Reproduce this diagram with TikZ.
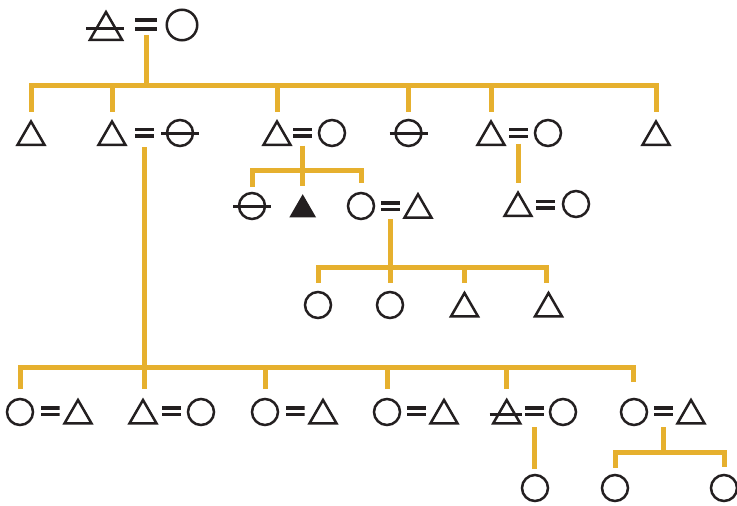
\documentclass[tikz,border=0pt]{standalone}
\usetikzlibrary{shapes.geometric,calc}
\definecolor{kinyellow}{RGB}{230,176,46}
\definecolor{ink}{RGB}{35,31,32}
\tikzset{
  sym/.style={draw=ink, line width=2.5pt, inner sep=0pt, outer sep=0pt},
  tri/.style={sym, regular polygon, regular polygon sides=3, minimum size=31pt},
  bigtri/.style={tri, minimum size=37pt},
  ftri/.style={regular polygon, regular polygon sides=3, minimum size=30.8pt, fill=ink, inner sep=0pt, outer sep=0pt},
  circ/.style={sym, circle, minimum size=26pt},
  bigcirc/.style={circ, minimum size=30.5pt},
  eqsign/.style n args={3}{minimum width=#1, minimum height=#2, inner sep=0pt, outer sep=0pt,
    path picture={
      \fill[ink] (path picture bounding box.north west) rectangle ([yshift=-#3]path picture bounding box.north east);
      \fill[ink] (path picture bounding box.south west) rectangle ([yshift=#3]path picture bounding box.south east);}},
  eq/.style={eqsign={19pt}{10pt}{3.4pt}},
  bigeq/.style={eqsign={22pt}{12.5pt}{3.9pt}},
  kin/.style={draw=kinyellow, line width=5pt},
  strike/.style={draw=ink, line width=3pt},
}
\begin{document}
\begin{tikzpicture}[x=1pt,y=-1pt]
\useasboundingbox (0,0) rectangle (737,506);

% generation 1
\node[bigtri]  (T0) at (106,30.5) {};
\node[bigeq]   (E0) at (146,24.5) {};
\node[bigcirc] (C0) at (182,25) {};
\draw[strike] ([xshift=-20pt,yshift=2.5pt]T0.center) -- ([xshift=18pt,yshift=2.5pt]T0.center);

% generation 2
\node[tri]  (A1) at (31,137) {};
\node[tri]  (A2) at (112,137) {};
\node[eq]   (E2) at (144.5,132.7) {};
\node[circ] (C2) at (180,133) {};
\draw[strike] ([xshift=-19pt]C2.center) -- ([xshift=19pt]C2.center);
\node[tri]  (A3) at (277,137) {};
\node[eq]   (E3) at (302.5,132.7) {};
\node[circ] (C3) at (332,133) {};
\node[circ] (C4) at (408.5,133) {};
\draw[strike] ([xshift=-19pt]C4.center) -- ([xshift=19pt]C4.center);
\node[tri]  (A5) at (491,137) {};
\node[eq]   (E5) at (518.5,133) {};
\node[circ] (C5) at (548,133) {};
\node[tri]  (A6) at (656,137) {};

% generation 3 (middle)
\node[circ] (F1) at (252,206) {};
\draw[strike] ([xshift=-19pt]F1.center) -- ([xshift=19pt]F1.center);
\node[ftri] (F2) at (302.7,209.6) {};
\node[circ] (F3) at (361,206) {};
\node[eq]   (EF) at (390.3,206.3) {};
\node[tri]  (F4) at (418,209.8) {};

\node[tri]  (G1) at (518,208.2) {};
\node[eq]   (EG) at (545.5,204.7) {};
\node[circ] (G2) at (576,204) {};

% generation 4 (middle)
\node[circ] (H1) at (318,305) {};
\node[circ] (H2) at (390,305) {};
\node[tri]  (H3) at (464.5,308.5) {};
\node[tri]  (H4) at (548.5,308.5) {};

% generation 3 (lower)
\node[circ] (B1) at (20,412) {};
\node[eq]   (EB1) at (50,411.3) {};
\node[tri]  (B1w) at (78,415.5) {};
\node[tri]  (B2) at (143,415.5) {};
\node[eq]   (EB2) at (171.5,411.3) {};
\node[circ] (B2w) at (201,412) {};
\node[circ] (B3) at (265,412) {};
\node[eq]   (EB3) at (295,411.3) {};
\node[tri]  (B3w) at (323,415.5) {};
\node[circ] (B4) at (387,412) {};
\node[eq]   (EB4) at (416.5,411.3) {};
\node[tri]  (B4w) at (444,415.5) {};
\node[tri]  (B5) at (506.7,415.5) {};
\draw[strike] ([xshift=-17pt,yshift=1.5pt]B5.center) -- ([xshift=15.5pt,yshift=1.5pt]B5.center);
\node[eq]   (EB5) at (534.5,411.3) {};
\node[circ] (B5w) at (563,412) {};
\node[circ] (B6) at (634,412) {};
\node[eq]   (EB6) at (663.5,411.3) {};
\node[tri]  (B6w) at (691,415.5) {};

% generation 4 (lower)
\node[circ] (D1) at (535,488) {};
\node[circ] (D2) at (615,488) {};
\node[circ] (D3) at (724,488) {};

% connectors
\coordinate (bar1) at (145,85);
\draw[kin] ([yshift=-4pt]E0.south) -- (E0.south |- bar1);
\draw[kin] ([yshift=9.5pt]A1.north) |- (A6.north |- bar1) -- ([yshift=9.5pt]A6.north);
\draw[kin] ([yshift=9.5pt]A2.north) -- (A2.north |- bar1);
\draw[kin] ([yshift=9.5pt]A3.north) -- (A3.north |- bar1);
\draw[kin] ([yshift=8pt]C4.north) -- (C4.north |- bar1);
\draw[kin] ([yshift=9.5pt]A5.north) -- (A5.north |- bar1);

% A3 = C3 children
\coordinate (bar3) at (303,170);
\draw[kin] ([yshift=-8pt]E3.south) -- ([yshift=8pt]F2.north -| E3.south);
\draw[kin] ([yshift=6.5pt]F1.north) |- (F3.north |- bar3) -- ([yshift=10pt]F3.north);

% A5 = C5 child
\draw[kin] ([yshift=-5.5pt]E5.south) -- ([yshift=9.5pt]G1.north -| E5.south);

% F3 = F4 children
\coordinate (bar5) at (390,267);
\draw[kin] ([yshift=-8pt]EF.south) -- ([yshift=9pt]H2.north -| EF.south);
\draw[kin] ([yshift=9pt]H1.north) |- ([xshift=-2.5pt]H4.north |- bar5) -- ([xshift=-2.5pt,yshift=10pt]H4.north);
\draw[kin] ([yshift=10pt]H3.north) -- (H3.north |- bar5);

% A2 = C2 children
\coordinate (bar2) at (145,367);
\draw[kin] ([yshift=-9.3pt]E2.south) -- ([yshift=11pt]B2.north -| E2.south);
\draw[kin] ([yshift=10pt]B1.north) |- ([xshift=-1pt]B6.north |- bar2) -- ([xshift=-1pt,yshift=17pt]B6.north);
\draw[kin] ([yshift=10pt]B3.north) -- (B3.north |- bar2);
\draw[kin] ([yshift=10pt]B4.north) -- (B4.north |- bar2);
\draw[kin] ([yshift=11pt]B5.north) -- (B5.north |- bar2);

% B5 couple child
\draw[kin] ([yshift=-11pt]EB5.south) -- ([yshift=6pt]D1.north -| EB5.south);

% B6 couple children
\coordinate (bar6) at (665,452);
\draw[kin] ([yshift=-11pt]EB6.south) -- (EB6.south |- bar6);
\draw[kin] ([yshift=7pt]D2.north) |- (D3.north |- bar6) -- ([yshift=8pt]D3.north);
\end{tikzpicture}
\end{document}
